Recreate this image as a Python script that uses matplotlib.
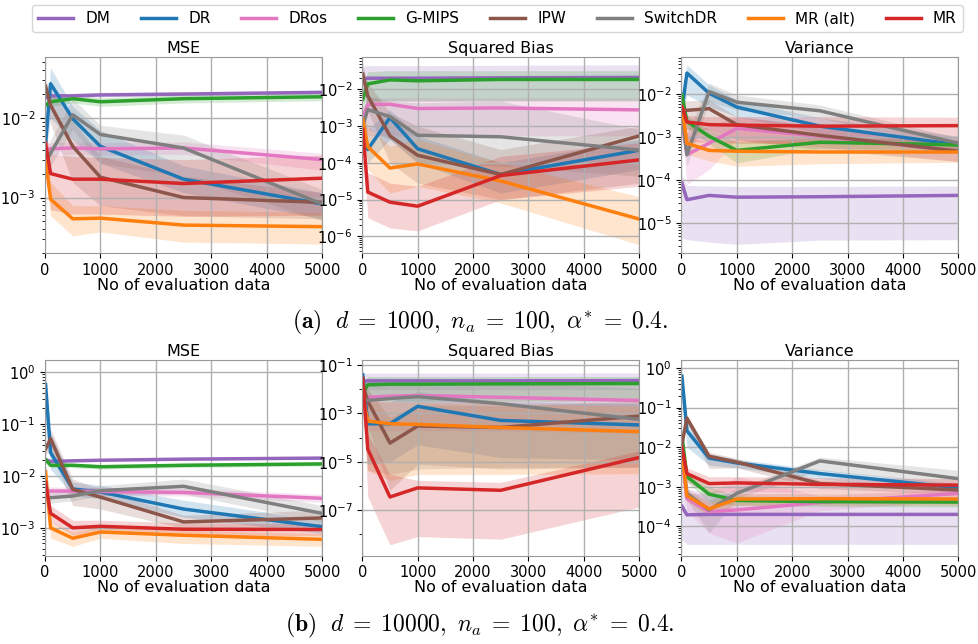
import matplotlib
matplotlib.use("Agg")
import matplotlib.pyplot as plt
from matplotlib.lines import Line2D
from matplotlib.ticker import LogLocator, NullFormatter

plt.rcParams["mathtext.fontset"] = "dejavusans"

x_eval = [10, 100, 500, 1000, 2500, 5000]
methods = ["DM", "DR", "DRos", "G-MIPS", "IPW", "SwitchDR", "MR (alt)", "MR"]
colors = {"DM": "#9467bd", "DR": "#1f77b4", "DRos": "#e377c2", "G-MIPS": "#2ca02c",
          "IPW": "#8c564b", "SwitchDR": "#7f7f7f", "MR (alt)": "#ff7f0e", "MR": "#d62728"}
xticks = [0, 1000, 2000, 3000, 4000, 5000]

# ---------- (a) d = 1000 : MSE ----------
mse_a_mean = {
    "DM": [1.8e-2, 1.9e-2, 1.9e-2, 1.95e-2, 2.0e-2, 2.1e-2],
    "DR": [4.8e-3, 2.7e-2, 9.8e-3, 4.4e-3, 1.7e-3, 8.3e-4],
    "DRos": [4.0e-3, 4.1e-3, 4.2e-3, 4.1e-3, 4.2e-3, 3.0e-3],
    "G-MIPS": [1.45e-2, 1.6e-2, 1.75e-2, 1.6e-2, 1.75e-2, 1.85e-2],
    "IPW": [2.5e-2, 1.45e-2, 4.4e-3, 1.8e-3, 1.0e-3, 8.7e-4],
    "SwitchDR": [2.8e-3, 3.6e-3, 1.1e-2, 6.2e-3, 4.2e-3, 8.3e-4],
    "MR (alt)": [3.0e-3, 9.5e-4, 5.4e-4, 5.5e-4, 4.5e-4, 4.3e-4],
    "MR": [4.8e-3, 2.0e-3, 1.7e-3, 1.7e-3, 1.5e-3, 1.75e-3],
}
mse_a_lo = {
    "DM": [1.7e-2, 1.75e-2, 1.8e-2, 1.85e-2, 1.9e-2, 2.0e-2],
    "DR": [3.5e-3, 1.0e-2, 5.3e-3, 2.7e-3, 1.15e-3, 5.4e-4],
    "DRos": [3.3e-3, 3.4e-3, 3.5e-3, 3.4e-3, 3.5e-3, 2.2e-3],
    "G-MIPS": [1.3e-2, 1.4e-2, 1.55e-2, 1.4e-2, 1.55e-2, 1.65e-2],
    "IPW": [2.0e-2, 8.5e-3, 1.55e-3, 7.9e-4, 5.9e-4, 5.4e-4],
    "SwitchDR": [2.2e-3, 2.5e-3, 7.1e-3, 2.7e-3, 1.85e-3, 5.1e-4],
    "MR (alt)": [2.0e-3, 5.9e-4, 3.3e-4, 3.7e-4, 2.75e-4, 2.6e-4],
    "MR": [2.5e-3, 7.0e-4, 6.2e-4, 6.2e-4, 5.8e-4, 6.0e-4],
}
mse_a_hi = {
    "DM": [1.95e-2, 2.0e-2, 2.05e-2, 2.1e-2, 2.15e-2, 2.25e-2],
    "DR": [7.0e-3, 4.3e-2, 1.4e-2, 7.0e-3, 2.5e-3, 1.15e-3],
    "DRos": [4.8e-3, 4.9e-3, 5.0e-3, 4.9e-3, 5.0e-3, 3.6e-3],
    "G-MIPS": [1.6e-2, 1.8e-2, 1.95e-2, 1.8e-2, 1.95e-2, 2.05e-2],
    "IPW": [2.95e-2, 2.2e-2, 9.3e-3, 3.3e-3, 1.85e-3, 1.15e-3],
    "SwitchDR": [3.6e-3, 5.3e-3, 1.75e-2, 8.1e-3, 6.1e-3, 1.26e-3],
    "MR (alt)": [4.5e-3, 1.55e-3, 7.9e-4, 7.9e-4, 6.9e-4, 6.5e-4],
    "MR": [7.0e-3, 3.5e-3, 3.3e-3, 3.2e-3, 3.0e-3, 3.4e-3],
}

# ---------- (a) d = 1000 : squared bias ----------
bias_a_mean = {
    "DM": [1.9e-2, 2.0e-2, 2.0e-2, 2.0e-2, 2.05e-2, 2.1e-2],
    "DR": [1.0e-3, 2.3e-4, 1.7e-3, 2.4e-4, 4.8e-5, 2.2e-4],
    "DRos": [1.7e-3, 3.9e-3, 3.9e-3, 3.0e-3, 3.1e-3, 2.75e-3],
    "G-MIPS": [5.4e-3, 1.4e-2, 1.8e-2, 1.7e-2, 1.85e-2, 1.85e-2],
    "IPW": [2.6e-2, 6.6e-3, 5.4e-4, 1.6e-4, 4.8e-5, 5.4e-4],
    "SwitchDR": [1.0e-3, 2.8e-3, 1.8e-3, 5.6e-4, 5.1e-4, 2.2e-4],
    "MR (alt)": [1.5e-3, 2.75e-4, 7.2e-5, 9.3e-5, 3.2e-5, 2.95e-6],
    "MR": [8.1e-4, 1.6e-5, 8.5e-6, 6.6e-6, 4.5e-5, 1.2e-4],
}
bias_a_lo = {
    "DM": [4.5e-3, 4.8e-3, 4.8e-3, 4.8e-3, 4.9e-3, 5.0e-3],
    "DR": [5.0e-4, 1.0e-4, 4.3e-4, 1.0e-4, 1.5e-5, 6.6e-5],
    "DRos": [8.0e-4, 5.4e-4, 5.4e-4, 5.4e-4, 5.4e-4, 5.4e-4],
    "G-MIPS": [2.0e-3, 4.8e-3, 4.8e-3, 4.8e-3, 4.8e-3, 4.8e-3],
    "IPW": [1.4e-2, 2.5e-3, 1.0e-4, 2.8e-5, 1.0e-5, 2.8e-5],
    "SwitchDR": [4.0e-4, 8.1e-4, 4.3e-4, 1.0e-4, 8.1e-5, 4.3e-5],
    "MR (alt)": [8.0e-4, 6.6e-5, 1.5e-5, 2.3e-5, 8.1e-6, 5.9e-7],
    "MR": [3.0e-4, 3.2e-6, 1.7e-6, 1.4e-6, 1.0e-5, 2.3e-5],
}
bias_a_hi = {
    "DM": [4.2e-2, 4.4e-2, 4.4e-2, 4.4e-2, 4.5e-2, 4.6e-2],
    "DR": [2.0e-3, 8.0e-4, 2.8e-3, 5.4e-4, 1.0e-4, 4.3e-4],
    "DRos": [3.0e-3, 5.9e-3, 5.9e-3, 5.9e-3, 5.9e-3, 5.9e-3],
    "G-MIPS": [1.5e-2, 3.0e-2, 3.2e-2, 3.2e-2, 3.2e-2, 3.2e-2],
    "IPW": [4.5e-2, 1.5e-2, 2.3e-3, 1.0e-3, 2.3e-4, 1.0e-3],
    "SwitchDR": [2.0e-3, 6.6e-3, 4.8e-3, 4.3e-3, 4.8e-3, 8.1e-4],
    "MR (alt)": [2.5e-3, 1.0e-3, 2.8e-4, 4.3e-4, 1.0e-4, 1.2e-5],
    "MR": [1.5e-3, 5.4e-5, 2.8e-5, 2.3e-5, 1.5e-4, 3.5e-4],
}

# ---------- (a) d = 1000 : variance ----------
var_a_mean = {
    "DM": [8.5e-5, 3.5e-5, 4.4e-5, 4.0e-5, 4.1e-5, 4.4e-5],
    "DR": [4.4e-3, 3.1e-2, 1.05e-2, 5.0e-3, 1.8e-3, 6.6e-4],
    "DRos": [2.5e-3, 3.9e-4, 7.2e-4, 1.6e-3, 1.05e-3, 4.7e-4],
    "G-MIPS": [9.6e-3, 2.3e-3, 1.05e-3, 4.9e-4, 7.6e-4, 6.6e-4],
    "IPW": [4.4e-3, 4.2e-3, 4.6e-3, 1.95e-3, 1.1e-3, 4.7e-4],
    "SwitchDR": [3.5e-3, 3.9e-4, 1.15e-2, 6.5e-3, 4.1e-3, 7.2e-4],
    "MR (alt)": [5.1e-3, 7.2e-4, 4.9e-4, 4.7e-4, 4.5e-4, 4.5e-4],
    "MR": [5.1e-3, 2.25e-3, 1.95e-3, 1.9e-3, 1.8e-3, 1.85e-3],
}
var_a_lo = {
    "DM": [4.5e-6, 4.1e-6, 3.6e-6, 3.2e-6, 4.0e-6, 4.1e-6],
    "DR": [2.5e-3, 9.6e-3, 5.2e-3, 3.0e-3, 1.25e-3, 4.7e-4],
    "DRos": [1.5e-3, 7.8e-5, 1.75e-4, 8.7e-4, 6.0e-4, 2.7e-4],
    "G-MIPS": [7.0e-3, 1.6e-3, 7.0e-4, 2.5e-4, 5.5e-4, 5.0e-4],
    "IPW": [1.5e-3, 1.5e-3, 1.5e-3, 8.7e-4, 5.1e-4, 2.7e-4],
    "SwitchDR": [2.4e-3, 2.1e-4, 6.8e-3, 4.3e-3, 2.8e-3, 5.1e-4],
    "MR (alt)": [3.0e-3, 4.0e-4, 2.8e-4, 2.1e-4, 2.4e-4, 2.6e-4],
    "MR": [3.0e-3, 8.0e-4, 7.5e-4, 7.2e-4, 7.0e-4, 7.2e-4],
}
var_a_hi = {
    "DM": [1.3e-4, 7.5e-5, 7.3e-5, 7.1e-5, 7.1e-5, 7.3e-5],
    "DR": [7.0e-3, 4.8e-2, 1.65e-2, 7.4e-3, 2.8e-3, 1.05e-3],
    "DRos": [3.5e-3, 1.25e-3, 1.8e-3, 3.0e-3, 1.8e-3, 7.2e-4],
    "G-MIPS": [1.3e-2, 3.2e-3, 1.5e-3, 7.9e-4, 1.0e-3, 8.5e-4],
    "IPW": [7.4e-3, 7.0e-3, 7.4e-3, 3.0e-3, 1.8e-3, 7.2e-4],
    "SwitchDR": [5.0e-3, 1.25e-3, 1.8e-2, 9.6e-3, 5.6e-3, 9.5e-4],
    "MR (alt)": [8.0e-3, 1.1e-3, 7.0e-4, 8.7e-4, 8.0e-4, 7.2e-4],
    "MR": [8.0e-3, 3.2e-3, 3.0e-3, 3.0e-3, 3.0e-3, 2.9e-3],
}

# ---------- (b) d = 10000 : MSE ----------
mse_b_mean = {
    "DM": [2.05e-2, 1.9e-2, 1.95e-2, 2.0e-2, 2.1e-2, 2.2e-2],
    "DR": [0.57, 2.8e-2, 5.6e-3, 4.9e-3, 2.3e-3, 1.05e-3],
    "DRos": [5.2e-3, 5.1e-3, 5.1e-3, 5.0e-3, 4.8e-3, 3.7e-3],
    "G-MIPS": [2.05e-2, 1.6e-2, 1.6e-2, 1.5e-2, 1.6e-2, 1.7e-2],
    "IPW": [3.3e-2, 5.2e-2, 5.5e-3, 3.9e-3, 1.3e-3, 1.55e-3],
    "SwitchDR": [3.9e-3, 3.8e-3, 4.1e-3, 5.2e-3, 6.3e-3, 1.9e-3],
    "MR (alt)": [1.2e-2, 1.0e-3, 6.3e-4, 8.3e-4, 7.2e-4, 6.0e-4],
    "MR": [7.6e-3, 1.9e-3, 1.0e-3, 1.07e-3, 9.4e-4, 9.3e-4],
}
mse_b_lo = {
    "DM": [1.95e-2, 1.8e-2, 1.85e-2, 1.9e-2, 2.0e-2, 2.1e-2],
    "DR": [0.3, 1.35e-2, 4.2e-3, 3.6e-3, 1.6e-3, 7.8e-4],
    "DRos": [4.4e-3, 4.3e-3, 4.3e-3, 4.2e-3, 4.1e-3, 3.1e-3],
    "G-MIPS": [1.85e-2, 1.45e-2, 1.45e-2, 1.35e-2, 1.45e-2, 1.55e-2],
    "IPW": [2.6e-2, 3.0e-2, 2.7e-3, 2.3e-3, 9.8e-4, 1.05e-3],
    "SwitchDR": [3.1e-3, 3.0e-3, 3.3e-3, 4.2e-3, 4.5e-3, 1.3e-3],
    "MR (alt)": [8.0e-3, 6.3e-4, 4.4e-4, 6.3e-4, 5.0e-4, 4.4e-4],
    "MR": [5.5e-3, 1.3e-3, 7.2e-4, 8.0e-4, 7.0e-4, 7.0e-4],
}
mse_b_hi = {
    "DM": [2.15e-2, 2.0e-2, 2.05e-2, 2.1e-2, 2.2e-2, 2.3e-2],
    "DR": [0.95, 6.8e-2, 7.6e-3, 6.6e-3, 3.4e-3, 1.4e-3],
    "DRos": [6.2e-3, 6.1e-3, 6.1e-3, 6.0e-3, 5.8e-3, 4.4e-3],
    "G-MIPS": [2.25e-2, 1.75e-2, 1.75e-2, 1.65e-2, 1.75e-2, 1.85e-2],
    "IPW": [4.0e-2, 7.9e-2, 8.7e-3, 5.6e-3, 1.75e-3, 2.2e-3],
    "SwitchDR": [4.9e-3, 4.8e-3, 5.1e-3, 6.5e-3, 8.7e-3, 2.7e-3],
    "MR (alt)": [1.6e-2, 1.3e-3, 8.3e-4, 1.05e-3, 9.0e-4, 7.8e-4],
    "MR": [1.0e-2, 2.7e-3, 1.4e-3, 1.4e-3, 1.25e-3, 1.2e-3],
}

# ---------- (b) d = 10000 : squared bias ----------
bias_b_mean = {
    "DM": [2.1e-2, 2.2e-2, 2.2e-2, 2.2e-2, 2.2e-2, 2.25e-2],
    "DR": [3.9e-2, 3.7e-4, 3.7e-4, 1.95e-3, 5.1e-4, 3.3e-4],
    "DRos": [4.6e-3, 4.6e-3, 5.1e-3, 5.5e-3, 4.6e-3, 3.4e-3],
    "G-MIPS": [6.9e-3, 1.5e-2, 1.6e-2, 1.6e-2, 1.65e-2, 1.7e-2],
    "IPW": [1.5e-2, 3.2e-3, 5.9e-5, 3.0e-4, 2.6e-4, 7.7e-4],
    "SwitchDR": [3.7e-3, 3.4e-3, 4.1e-3, 4.9e-3, 2.5e-3, 5.6e-4],
    "MR (alt)": [5.0e-3, 4.8e-4, 3.7e-4, 3.5e-4, 2.6e-4, 1.75e-4],
    "MR": [2.8e-2, 3.3e-5, 3.5e-7, 8.3e-7, 6.6e-7, 1.5e-5],
}
bias_b_lo = {
    "DM": [9.0e-3, 9.5e-3, 9.5e-3, 9.5e-3, 9.5e-3, 9.7e-3],
    "DR": [1.0e-2, 8.0e-6, 1.0e-5, 5.0e-5, 1.5e-5, 1.2e-5],
    "DRos": [3.0e-4, 1.9e-4, 1.9e-4, 1.9e-4, 1.9e-4, 1.5e-4],
    "G-MIPS": [1.5e-3, 3.2e-3, 3.2e-3, 3.2e-3, 3.2e-3, 3.2e-3],
    "IPW": [5.0e-3, 3.0e-4, 6.6e-7, 8.0e-6, 5.0e-6, 6.0e-6],
    "SwitchDR": [1.0e-3, 4.3e-6, 3.0e-6, 5.0e-6, 5.9e-6, 5.9e-6],
    "MR (alt)": [1.0e-3, 4.3e-6, 1.7e-6, 3.0e-6, 3.0e-6, 3.2e-6],
    "MR": [1.0e-2, 3.5e-7, 3.7e-9, 8.1e-9, 6.3e-9, 1.35e-7],
}
bias_b_hi = {
    "DM": [4.4e-2, 4.6e-2, 4.6e-2, 4.6e-2, 4.6e-2, 4.7e-2],
    "DR": [6.0e-2, 3.0e-3, 3.0e-3, 8.0e-3, 3.0e-3, 2.5e-3],
    "DRos": [1.5e-2, 2.1e-2, 2.1e-2, 2.1e-2, 2.1e-2, 1.8e-2],
    "G-MIPS": [2.0e-2, 3.3e-2, 3.3e-2, 3.3e-2, 3.3e-2, 3.3e-2],
    "IPW": [3.0e-2, 1.0e-2, 6.6e-4, 2.3e-3, 2.0e-3, 3.2e-3],
    "SwitchDR": [1.5e-2, 2.8e-2, 2.8e-2, 2.8e-2, 2.0e-2, 1.1e-2],
    "MR (alt)": [1.5e-2, 3.2e-3, 3.0e-3, 3.0e-3, 2.5e-3, 2.0e-3],
    "MR": [5.0e-2, 1.4e-4, 3.0e-6, 1.7e-6, 1.4e-6, 2.8e-5],
}

# ---------- (b) d = 10000 : variance ----------
var_b_mean = {
    "DM": [3.2e-4, 1.95e-4, 2.0e-4, 2.0e-4, 2.0e-4, 2.0e-4],
    "DR": [0.62, 2.6e-2, 5.3e-3, 4.0e-3, 2.15e-3, 9.4e-4],
    "DRos": [4.7e-3, 5.0e-4, 2.35e-4, 2.6e-4, 4.0e-4, 6.8e-4],
    "G-MIPS": [1.95e-2, 1.8e-3, 6.5e-4, 4.5e-4, 4.2e-4, 4.1e-4],
    "IPW": [1.2e-2, 5.4e-2, 5.9e-3, 4.2e-3, 1.2e-3, 8.3e-4],
    "SwitchDR": [8.0e-3, 6.8e-4, 2.6e-4, 6.8e-4, 4.5e-3, 1.6e-3],
    "MR (alt)": [8.3e-3, 5.9e-4, 2.75e-4, 4.9e-4, 5.0e-4, 4.9e-4],
    "MR": [1.0e-2, 2.15e-3, 1.2e-3, 1.25e-3, 1.15e-3, 1.1e-3],
}
var_b_lo = {
    "DM": [4.6e-5, 3.5e-5, 3.5e-5, 3.5e-5, 3.5e-5, 3.5e-5],
    "DR": [0.3, 1.0e-2, 3.5e-3, 3.0e-3, 1.6e-3, 7.0e-4],
    "DRos": [3.0e-3, 2.5e-4, 6.8e-5, 3.8e-5, 2.5e-4, 4.5e-4],
    "G-MIPS": [1.5e-2, 1.35e-3, 4.0e-4, 3.4e-4, 3.2e-4, 3.1e-4],
    "IPW": [8.0e-3, 4.2e-2, 2.9e-3, 3.0e-3, 9.0e-4, 6.5e-4],
    "SwitchDR": [5.0e-3, 4.8e-4, 6.8e-5, 5.0e-4, 2.6e-3, 1.1e-3],
    "MR (alt)": [6.0e-3, 4.1e-4, 1.9e-4, 3.4e-4, 3.5e-4, 3.4e-4],
    "MR": [7.0e-3, 1.3e-3, 7.0e-4, 7.5e-4, 7.0e-4, 6.6e-4],
}
var_b_hi = {
    "DM": [8.0e-4, 6.8e-4, 6.8e-4, 6.8e-4, 6.8e-4, 6.8e-4],
    "DR": [0.9, 4.7e-2, 6.8e-3, 5.0e-3, 2.7e-3, 1.2e-3],
    "DRos": [6.5e-3, 9.0e-4, 6.8e-4, 1.8e-3, 6.0e-4, 9.0e-4],
    "G-MIPS": [2.5e-2, 2.3e-3, 1.0e-3, 5.9e-4, 5.5e-4, 5.3e-4],
    "IPW": [1.6e-2, 6.5e-2, 7.5e-3, 5.2e-3, 1.5e-3, 1.0e-3],
    "SwitchDR": [1.1e-2, 9.0e-4, 4.6e-4, 9.0e-4, 5.6e-3, 2.6e-3],
    "MR (alt)": [1.2e-2, 8.3e-4, 3.9e-4, 6.9e-4, 7.0e-4, 6.9e-4],
    "MR": [1.4e-2, 3.0e-3, 1.8e-3, 1.8e-3, 1.7e-3, 1.6e-3],
}

titles = ["MSE", "Squared Bias", "Variance"]
captions = [r"$\mathbf{(a)}\ \ d\;=\;1000,\ n_a\;=\;100,\ \alpha^{*}\;=\;0.4.$",
            r"$\mathbf{(b)}\ \ d\;=\;10000,\ n_a\;=\;100,\ \alpha^{*}\;=\;0.4.$"]

panels = [
    [(mse_a_mean, mse_a_lo, mse_a_hi, (2.0e-4, 5.8e-2), None),
     (bias_a_mean, bias_a_lo, bias_a_hi, (3.5e-7, 7.4e-2), None),
     (var_a_mean, var_a_lo, var_a_hi, (2.0e-6, 7.2e-2), None)],
    [(mse_b_mean, mse_b_lo, mse_b_hi, (2.9e-4, 1.7), None),
     (bias_b_mean, bias_b_lo, bias_b_hi, (1.3e-9, 0.16), [1e-7, 1e-5, 1e-3, 1e-1]),
     (var_b_mean, var_b_lo, var_b_hi, (1.8e-5, 1.6), None)],
]

fig = plt.figure(figsize=(9.79, 6.44), dpi=100)
lefts = [0.046, 0.370, 0.696]
bottoms = [0.607, 0.137]
w, h = 0.283, 0.304

for r in range(2):
    for c in range(3):
        mean, lo, hi, ylim, majors = panels[r][c]
        ax = fig.add_axes([lefts[c], bottoms[r], w, h])
        for m in methods:
            ax.fill_between(x_eval, lo[m], hi[m], color=colors[m], alpha=0.2, linewidth=0)
        for m in methods:
            ax.plot(x_eval, mean[m], color=colors[m], linewidth=2.5, label=m)
        ax.set_yscale("log")
        ax.set_ylim(*ylim)
        ax.set_xlim(0, 5000)
        ax.set_xticks(xticks)
        if majors is not None:
            ax.set_yticks(majors)
            ax.yaxis.set_minor_locator(LogLocator(base=10, subs=(1.0,), numticks=20))
            ax.yaxis.set_minor_formatter(NullFormatter())
        ax.grid(True, which="major", color="#b0b0b0", linewidth=1.0)
        ax.tick_params(labelsize=10.5)
        for s in ax.spines.values():
            s.set_color("#999999")
        ax.set_title(titles[c], fontsize=11.5, pad=3)
        ax.set_xlabel("No of evaluation data", fontsize=11.5, labelpad=0)
    fig.text(0.49, bottoms[r] - 0.108, captions[r], ha="center", va="center", fontsize=17,
             math_fontfamily="cm")

handles = [Line2D([0], [0], color=colors[m], linewidth=2.5) for m in methods]
fig.legend(handles, methods, loc="upper center", ncol=8,
           bbox_to_anchor=(0.508, 0.997), fontsize=11, frameon=True,
           fancybox=True, edgecolor="#cccccc", handlelength=2.3, columnspacing=2.0,
           borderaxespad=0.2)

fig.savefig("out.png", dpi=100)
